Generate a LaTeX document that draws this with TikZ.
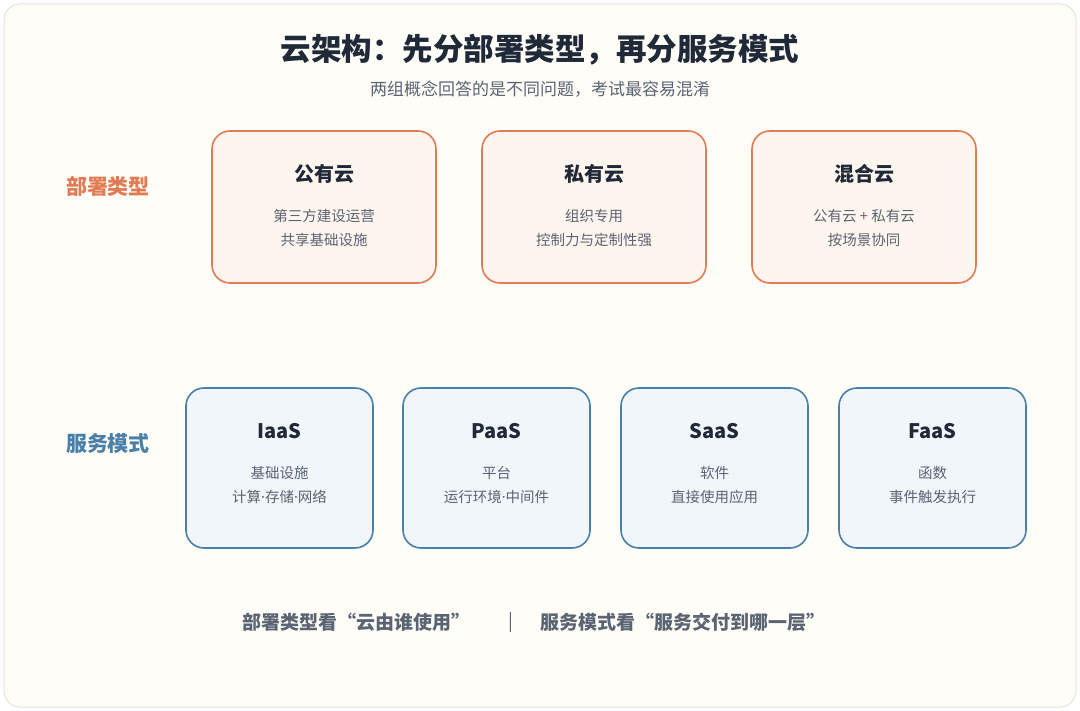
\documentclass[tikz,border=0pt]{standalone}
\usepackage{fontspec}
\setmainfont{Noto Sans CJK SC}
\newfontfamily\latinf{Noto Sans}
\newcommand{\md}{{\latinf ·}}
\definecolor{bg}{HTML}{FFFDF8}
\definecolor{frame}{HTML}{E6E3DC}
\definecolor{ttl}{HTML}{1F2937}
\definecolor{sub}{HTML}{5B6472}
\definecolor{ora}{HTML}{E07B54}
\definecolor{orafill}{HTML}{FFF5EF}
\definecolor{blu}{HTML}{4A7FA8}
\definecolor{blufill}{HTML}{F1F6FB}
\begin{document}
\begin{tikzpicture}[x=1pt,y=-1pt,
  dep/.style={draw=ora,fill=orafill,line width=1.6pt,rounded corners=18pt},
  svc/.style={draw=blu,fill=blufill,line width=1.6pt,rounded corners=18pt},
  bt/.style={font=\fontsize{20}{24}\selectfont\bfseries,text=ttl},
  bl/.style={font=\fontsize{14.5}{24}\selectfont,text=sub,align=center},
  side/.style={font=\fontsize{21}{24}\selectfont\bfseries},
  foot/.style={font=\fontsize{19}{20}\selectfont\bfseries,text=sub}]
\useasboundingbox (0,0) rectangle (1080,711);
\draw[fill=bg,draw=frame,line width=1pt,rounded corners=16pt] (4,4) rectangle (1076,707);
\node[font=\fontsize{30.5}{32}\selectfont\bfseries,text=ttl] (title) at (540,50) {云架构：先分部署类型，再分服务模式};
\node[font=\fontsize{17}{18}\selectfont,text=sub] (subt) at (540,89) {两组概念回答的是不同问题，考试最容易混淆};
\node[side,text=ora] (l1) at (108,186) {部署类型};
\node[side,text=blu] (l2) at (108,443) {服务模式};
\foreach \x/\n/\t/\a/\b in {212/d1/公有云/第三方建设运营/共享基础设施,482/d2/私有云/组织专用/控制力与定制性强,752/d3/混合云/公有云 + 私有云/按场景协同}{
  \draw[dep] (\x,131) rectangle ++(224,152);
  \node[bt] (\n t) at (\x+112,174) {\t};
  \node[bl] (\n a) at (\x+112,216) {\a};
  \node[bl] (\n b) at (\x+112,240) {\b};
}
\foreach \x/\n/\t/\a/\b in {186/s1/IaaS/基础设施/计算\md 存储\md 网络,403/s2/PaaS/平台/运行环境\md 中间件,621/s3/SaaS/软件/直接使用应用,839/s4/FaaS/函数/事件触发执行}{
  \draw[svc] (\x,388) rectangle ++(187,160);
  \node[bt] (\n t) at (\x+93.5,431) {\t};
  \node[bl] (\n a) at (\x+93.5,473) {\a};
  \node[bl] (\n b) at (\x+93.5,497) {\b};
}
\node[foot] (f1) at (356,622) {部署类型看“云由谁使用”};
\node[font=\fontsize{18}{20}\selectfont,text=sub] (f2) at (511,622) {|};
\node[foot] (f3) at (683,622) {服务模式看“服务交付到哪一层”};
\end{tikzpicture}
\end{document}
